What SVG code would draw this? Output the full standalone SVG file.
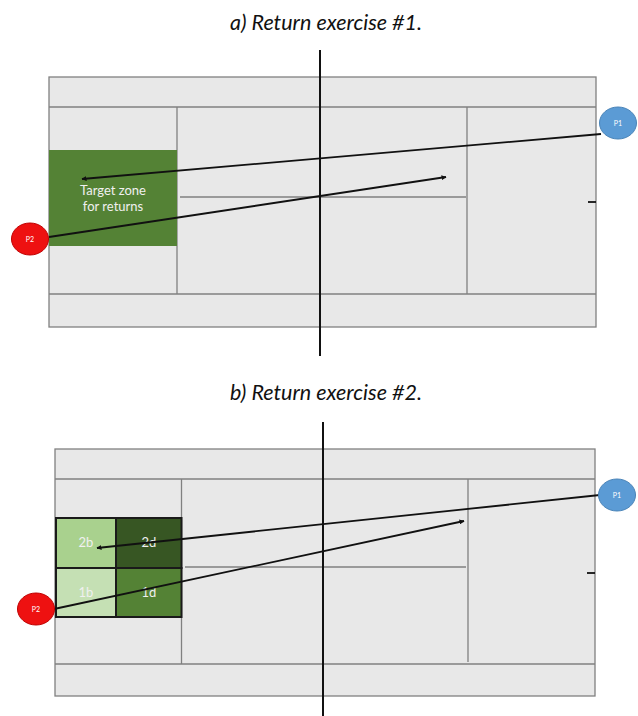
<svg xmlns="http://www.w3.org/2000/svg" width="638" height="716" viewBox="0 0 638 716">
<style>
.title{font-family:Lato,"Liberation Sans",sans-serif;font-style:italic;font-size:21.5px;fill:#111;text-anchor:middle}
.court{fill:#e8e8e8;stroke:#808080;stroke-width:1.3}
.cl{stroke:#808080;stroke-width:1.3;fill:none}
.net{stroke:#111;stroke-width:2;fill:none}
.tick{stroke:#111;stroke-width:1.8}
.shot{stroke:#111;stroke-width:1.8;fill:none;marker-end:url(#ah)}
.lbl{font-family:Lato,"Liberation Sans",sans-serif;font-size:13px;fill:#f0f0f0;text-anchor:middle}
.plbl{font-family:Lato,"Liberation Sans",sans-serif;font-size:7px;fill:#fff;text-anchor:middle}
.p1{fill:#5b9bd5;stroke:#4a84b8;stroke-width:1}
.p2{fill:#ee1111;stroke:#c00000;stroke-width:1}
.cell{stroke:#1a1a1a;stroke-width:2}
</style>
<defs>
<marker id="ah" viewBox="0 0 10 10" refX="9" refY="5" markerWidth="5" markerHeight="5" orient="auto" markerUnits="userSpaceOnUse"><path d="M0,0 L10,5 L0,10 z" fill="#111"/></marker>
</defs>
<rect width="638" height="716" fill="#fff"/>

<g id="court-a">
<text class="title" x="326" y="30">a) Return exercise #1.</text>
<rect class="court" x="49" y="77" width="547" height="250"/>
<line class="cl" x1="49" y1="107" x2="596" y2="107"/>
<line class="cl" x1="49" y1="294" x2="596" y2="294"/>
<line class="cl" x1="177" y1="107" x2="177" y2="294"/>
<line class="cl" x1="467" y1="107" x2="467" y2="294"/>
<line class="cl" x1="180" y1="197" x2="466" y2="197"/>
<line class="tick" x1="588" y1="202" x2="596" y2="202"/>
</g>
<g id="target-zone">
<rect x="49" y="150" width="128" height="96" fill="#548235"/>
<text class="lbl" x="113" y="195">Target zone</text>
<text class="lbl" x="113" y="211">for returns</text>
</g>
<g id="net-a"><line class="net" x1="320" y1="50" x2="320" y2="356"/></g>

<g id="court-b">
<text class="title" x="326" y="400">b) Return exercise #2.</text>
<rect class="court" x="55" y="449" width="540" height="247"/>
<line class="cl" x1="55" y1="479" x2="595" y2="479"/>
<line class="cl" x1="55" y1="664" x2="595" y2="664"/>
<line class="cl" x1="181.5" y1="479" x2="181.5" y2="664"/>
<line class="cl" x1="468" y1="479" x2="468" y2="662"/>
<line class="cl" x1="185" y1="567" x2="466" y2="567"/>
<line class="tick" x1="587" y1="573" x2="595" y2="573"/>
</g>
<g id="zone-2b"><rect class="cell" x="56" y="518" width="60" height="50" fill="#a9d18e"/><text class="lbl" x="86" y="547">2b</text></g>
<g id="zone-2d"><rect class="cell" x="116" y="518" width="65.5" height="50" fill="#375623"/><text class="lbl" x="149" y="547">2d</text></g>
<g id="zone-1b"><rect class="cell" x="56" y="568" width="60" height="49" fill="#c5e0b4"/><text class="lbl" x="86" y="597">1b</text></g>
<g id="zone-1d"><rect class="cell" x="116" y="568" width="65.5" height="49" fill="#548235"/><text class="lbl" x="149" y="597">1d</text></g>
<g id="net-b"><line class="net" x1="323" y1="422" x2="323" y2="716"/></g>

<g id="connectors">
<line class="shot" x1="601" y1="134" x2="82" y2="179"/>
<line class="shot" x1="49" y1="237" x2="446" y2="177"/>
<line class="shot" x1="600" y1="495" x2="97" y2="548"/>
<line class="shot" x1="54" y1="609" x2="464" y2="521"/>
</g>

<g id="p1-a"><ellipse class="p1" cx="618" cy="123" rx="18.5" ry="16"/><text class="plbl" x="618" y="125.5">P1</text></g>
<g id="p2-a"><ellipse class="p2" cx="30" cy="239" rx="18.5" ry="16"/><text class="plbl" x="30" y="241.5">P2</text></g>
<g id="p1-b"><ellipse class="p1" cx="617" cy="495" rx="18.5" ry="16"/><text class="plbl" x="617" y="497.5">P1</text></g>
<g id="p2-b"><ellipse class="p2" cx="36" cy="609" rx="18.5" ry="16"/><text class="plbl" x="36" y="611.5">P2</text></g>
</svg>
